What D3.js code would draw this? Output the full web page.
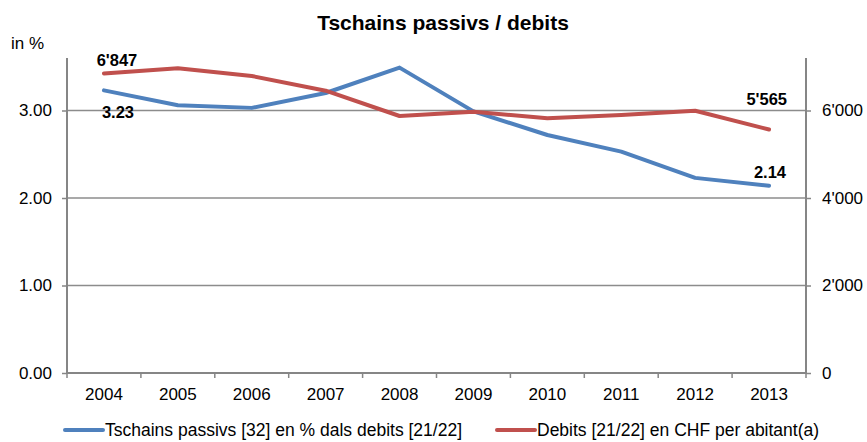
<html>
<head>
    <title>Tschains passivs / debits</title>
    <script src="https://d3js.org/d3.v7.min.js"></script>
    <style>
        body { margin: 0; background: #fff; }
        text { font-family: "Liberation Sans", Arial, sans-serif; fill: #000; }
    </style>
</head>
<body>
<div id="chart"></div>
<script>
    // data
    var years = ["2004", "2005", "2006", "2007", "2008", "2009", "2010", "2011", "2012", "2013"];
    var passivs = [3.23, 3.06, 3.03, 3.20, 3.49, 2.99, 2.72, 2.53, 2.23, 2.14];
    var debits = [6847, 6966, 6789, 6453, 5874, 5973, 5822, 5897, 5995, 5565];
    var leftTicks = [0, 1, 2, 3];
    var rightTicks = [0, 2000, 4000, 6000];
    var seriesNames = ["Tschains passivs [32] en % dals debits [21/22]", "Debits [21/22] en CHF per abitant(a)"];
    var colors = ["#4F81BD", "#C0504D"];

    var width = 867, height = 442;
    var plotLeft = 67, plotRight = 806, plotTop = 58, plotBottom = 373;

    var svg = d3.select("#chart").append("svg")
        .attr("width", width)
        .attr("height", height);

    var x = d3.scaleBand().domain(years).range([plotLeft, plotRight]);
    var yL = d3.scaleLinear().domain([0, 3.6]).range([plotBottom, plotTop]);
    var yR = d3.scaleLinear().domain([0, 7200]).range([plotBottom, plotTop]);

    var fmtR = function(d) { return d3.format(",")(d).replace(/,/g, "'"); };

    // title
    svg.append("text")
        .attr("x", 443)
        .attr("y", 30)
        .attr("text-anchor", "middle")
        .style("font-size", "21px")
        .style("font-weight", "bold")
        .text("Tschains passivs / debits");

    svg.append("text")
        .attr("x", 11)
        .attr("y", 49)
        .style("font-size", "17px")
        .text("in %");

    // gridlines
    svg.append("g")
        .selectAll("line")
        .data(leftTicks.filter(function(d) { return d > 0; }))
        .enter().append("line")
        .attr("x1", plotLeft).attr("x2", plotRight)
        .attr("y1", function(d) { return yL(d); })
        .attr("y2", function(d) { return yL(d); })
        .attr("stroke", "#8c8c8c")
        .attr("stroke-width", 1.5);

    // left axis
    var gL = svg.append("g")
        .attr("transform", "translate(" + plotLeft + ",0)")
        .call(d3.axisLeft(yL).tickValues(leftTicks).tickFormat(d3.format(".2f")).tickSize(5).tickPadding(10));

    // right axis
    var gR = svg.append("g")
        .attr("transform", "translate(" + plotRight + ",0)")
        .call(d3.axisRight(yR).tickValues(rightTicks).tickFormat(fmtR).tickSize(5).tickPadding(11));

    // x axis
    var gX = svg.append("g")
        .attr("transform", "translate(0," + plotBottom + ")")
        .call(d3.axisBottom(x).tickSize(0).tickPadding(15));

    var bounds = d3.range(years.length + 1).map(function(i) { return plotLeft + i * x.bandwidth(); });
    gX.selectAll(".bt")
        .data(bounds)
        .enter().append("line")
        .attr("class", "bt")
        .attr("x1", function(d) { return d; })
        .attr("x2", function(d) { return d; })
        .attr("y1", 0).attr("y2", 5)
        .attr("stroke", "#868686")
        .attr("stroke-width", 1.5);

    [gL, gR, gX].forEach(function(g) {
        g.selectAll(".domain").attr("stroke", "#868686").attr("stroke-width", 2);
        g.selectAll(".tick line").attr("stroke", "#868686").attr("stroke-width", 1.5);
        g.selectAll("text")
            .style("font-family", "'Liberation Sans', Arial, sans-serif")
            .style("font-size", "17px")
            .attr("fill", "#000");
    });
    gL.select(".domain").attr("d", "M0," + plotTop + "V" + plotBottom);
    gR.select(".domain").attr("d", "M0," + plotTop + "V" + plotBottom);
    gX.select(".domain").attr("d", "M" + plotLeft + ",0H" + plotRight);

    // lines
    var cx = function(i) { return x(years[i]) + x.bandwidth() / 2; };

    svg.append("path")
        .datum(passivs)
        .attr("fill", "none")
        .attr("stroke", colors[0])
        .attr("stroke-width", 4)
        .attr("stroke-linejoin", "round")
        .attr("stroke-linecap", "round")
        .attr("d", d3.line()
            .x(function(d, i) { return cx(i); })
            .y(function(d) { return yL(d); }));

    svg.append("path")
        .datum(debits)
        .attr("fill", "none")
        .attr("stroke", colors[1])
        .attr("stroke-width", 4)
        .attr("stroke-linejoin", "round")
        .attr("stroke-linecap", "round")
        .attr("d", d3.line()
            .x(function(d, i) { return cx(i); })
            .y(function(d) { return yR(d); }));

    // data labels
    var last = years.length - 1;
    var labels = [
        { x: cx(0) + 13, y: yR(debits[0]) - 7, t: fmtR(debits[0]), a: "middle" },
        { x: cx(0) + 14, y: yL(passivs[0]) + 28, t: passivs[0].toFixed(2), a: "middle" },
        { x: cx(last) + 18, y: yR(debits[last]) - 25, t: fmtR(debits[last]), a: "end" },
        { x: cx(last) + 17, y: yL(passivs[last]) - 8, t: passivs[last].toFixed(2), a: "end" }
    ];
    svg.append("g")
        .selectAll("text")
        .data(labels)
        .enter().append("text")
        .attr("x", function(d) { return d.x; })
        .attr("y", function(d) { return d.y; })
        .attr("text-anchor", function(d) { return d.a; })
        .style("font-size", "16.5px")
        .style("font-weight", "bold")
        .text(function(d) { return d.t; });

    // legend
    var legX = [65, 497];
    var leg = svg.append("g")
        .selectAll("g")
        .data(seriesNames)
        .enter().append("g")
        .attr("transform", function(d, i) { return "translate(" + legX[i] + ",430)"; });

    leg.append("line")
        .attr("x1", 0).attr("x2", 38)
        .attr("stroke", function(d, i) { return colors[i]; })
        .attr("stroke-width", 4)
        .attr("stroke-linecap", "round");

    leg.append("text")
        .attr("x", 40)
        .attr("y", 6)
        .style("font-size", "17.5px")
        .text(function(d) { return d; });
</script>
</body>
</html>
